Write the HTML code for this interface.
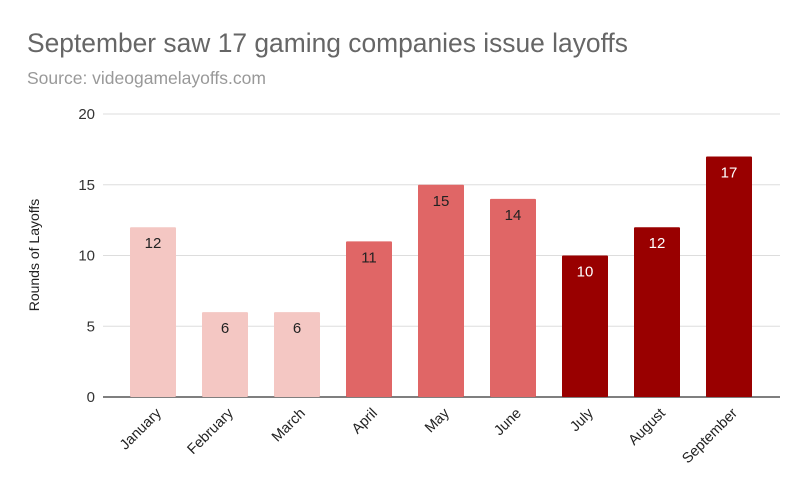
<!DOCTYPE html>
<html><head><meta charset="utf-8"><style>
body{margin:0;background:#fff;}
svg{display:block;font-family:"Liberation Sans",Arial,sans-serif;}
</style></head><body>
<svg id="chart" width="800" height="493">
<text x="27" y="52" font-size="26.4" fill="#666">September saw 17 gaming companies issue layoffs</text>
<text x="27" y="84" font-size="17.5" fill="#999">Source: videogamelayoffs.com</text>
<text transform="translate(39,255) rotate(-90)" text-anchor="middle" font-size="14" fill="#222">Rounds of Layoffs</text>
<g id="grid"></g><g id="bars"></g><g id="xlabels"></g>
</svg>
<script>
const categories=["January","February","March","April","May","June","July","August","September"];
const values=[12,6,6,11,15,14,10,12,17];
const colorGroups=[0,0,0,1,1,1,2,2,2];
const yTicks=[0,5,10,15,20];
const palette=["#f4c7c3","#e06666","#990000"];
const labelColors=["#222","#222","#fff"];
const NS="http://www.w3.org/2000/svg";
const y0=397,y1=114,vmax=20,left=103,right=780;
function yScale(v){return y0-(v/vmax)*(y0-y1);}
function xScale(i){return 153+i*72;}
function mk(t,a,p){const e=document.createElementNS(NS,t);for(const k in a)e.setAttribute(k,a[k]);p.appendChild(e);return e;}
const grid=document.getElementById('grid');
yTicks.forEach(t=>{
 const l=mk('line',{x1:left,x2:right,y1:yScale(t),y2:yScale(t),stroke:t===0?'#333':'#ddd','stroke-width':t===0?1.3:1},grid);
 
 
 const tx=mk('text',{x:95,y:yScale(t)+5,'text-anchor':'end','font-size':15,fill:'#333'},grid);
 tx.textContent=t;
 
 
});
const bars=document.getElementById('bars'),xl=document.getElementById('xlabels');
categories.forEach((c,i)=>{
 const v=values[i],cx=xScale(i),w=46;
 const r=mk('rect',{x:cx-w/2,y:yScale(v),width:w,height:yScale(0)-yScale(v),fill:palette[colorGroups[i]],rx:1},bars);
 
 
 const t=mk('text',{x:cx,y:yScale(v)+21,'text-anchor':'middle','font-size':15,fill:labelColors[colorGroups[i]]},bars);
 t.textContent=v;
 
 
 const lx=mk('text',{'text-anchor':'end','font-size':14.5,fill:'#222',transform:`translate(${cx+9},${y0+17}) rotate(-45)`},xl);
 lx.textContent=c;
 
 
});
</script>
</body></html>
